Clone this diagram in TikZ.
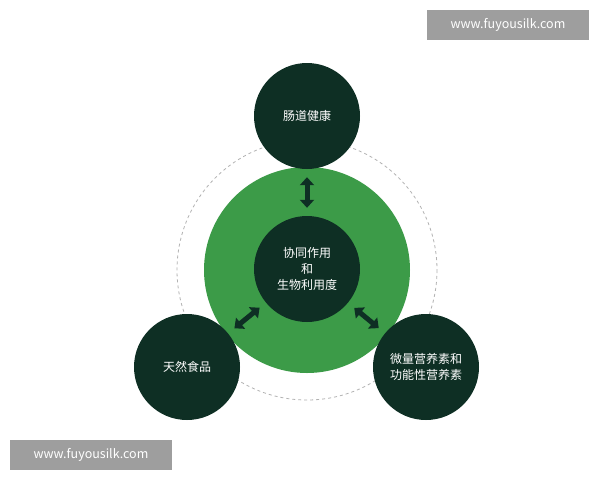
\documentclass[tikz,border=0pt]{standalone}
\usepackage{fontspec}
\setmainfont{Noto Sans CJK SC}
\usetikzlibrary{arrows.meta}
\definecolor{darkgreen}{HTML}{0E2F24}
\definecolor{midgreen}{HTML}{3C9B48}
\definecolor{wmgrey}{HTML}{9E9E9E}
\begin{document}
\begin{tikzpicture}[x=1pt,y=-1pt,
    bubble/.style={circle, fill=darkgreen, text=white, align=center, minimum size=106pt, inner sep=0pt, font=\fontsize{12}{16}\selectfont},
    link/.style={{Triangle[length=8pt,width=14pt]}-{Triangle[length=8pt,width=14pt]}, line width=5pt, draw=darkgreen, shorten <=8pt, shorten >=8pt},
    watermark/.style={fill=wmgrey, text=white, minimum width=162pt, minimum height=30pt, inner sep=0pt, font=\fontsize{12.5}{14}\selectfont}
]
\useasboundingbox[fill=white] (0,0) rectangle (600,480);

% rings
\draw[gray!60, dashed, line width=0.8pt] (307,270) circle (130);
\fill[midgreen] (307,270) circle (103);

% bubbles
\node[bubble] (centre) at (307,269) {协同作用\\和\\生物利用度};
\node[bubble] (gut) at (307,116) {肠道健康};
\node[bubble] (food) at (187,367) {天然食品};
\node[bubble] (micro) at (426,367) {微量营养素和\\功能性营养素};

% links
\draw[link] (gut) -- (centre);
\draw[link] (food) -- (centre);
\draw[link] (micro) -- (centre);

% watermarks
\node[watermark] (wmtop) at (508,25) {www.fuyousilk.com};
\node[watermark] (wmbottom) at (91,455) {www.fuyousilk.com};
\end{tikzpicture}
\end{document}
